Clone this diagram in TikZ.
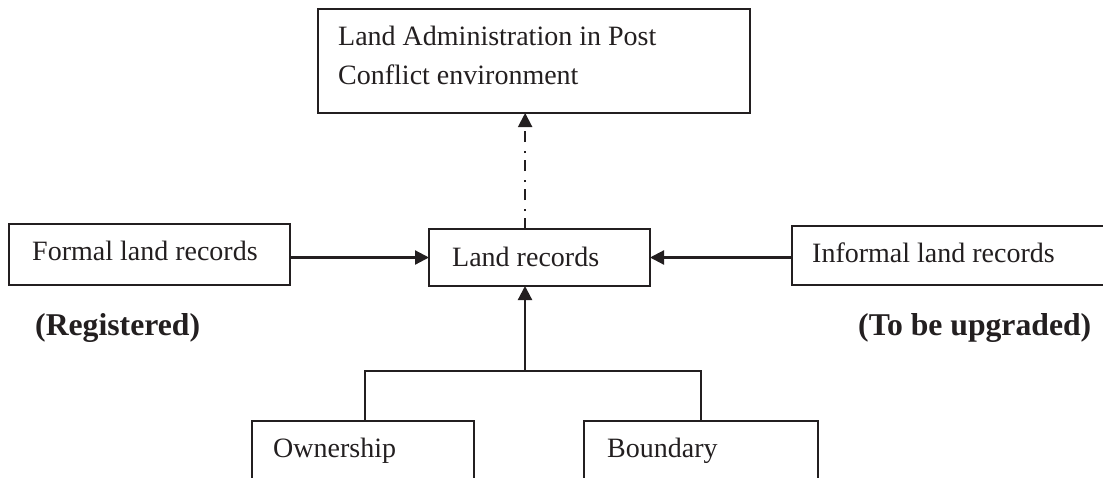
\documentclass[tikz,border=0pt]{standalone}
\usepackage{fontspec}
\setmainfont{Liberation Serif}
\usetikzlibrary{arrows.meta,calc}
\definecolor{ink}{HTML}{231F20}
\tikzset{
  box/.style={draw=ink, line width=1.5pt, rectangle, inner sep=0pt, outer sep=0pt, anchor=north west},
  txt/.style={text=ink, inner sep=0pt, anchor=base west, font=\fontsize{28}{34}\selectfont},
  lbl/.style={text=ink, inner sep=0pt, anchor=base west, font=\fontsize{31.7}{38}\selectfont\bfseries},
  conn/.style={draw=ink, line width=2.2pt},
  arr/.style={conn, -{Triangle[length=14pt,width=14pt]}},
  dashdotarr/.style={draw=ink, line width=2pt, -{Triangle[length=14pt,width=14pt]},
    dash pattern=on 11pt off 7pt on 2pt off 9pt}
}
\begin{document}
\begin{tikzpicture}[x=1pt,y=-1pt]
\clip (0,0) rectangle (1103,477);
\fill[white] (0,0) rectangle (1103,477);
% boxes
\node[box, minimum width=432pt, minimum height=104pt] (top) at (318,9) {};
\node[box, minimum width=281pt, minimum height=61pt] (formal) at (9,224) {};
\node[box, minimum width=221pt, minimum height=57pt] (land) at (429,229) {};
\node[box, minimum width=323pt, minimum height=59pt] (informal) at (792,226) {};
\node[box, minimum width=222pt, minimum height=80pt] (own) at (252,421) {};
\node[box, minimum width=234pt, minimum height=80pt] (bnd) at (584,421) {};
% texts
\node[txt] (t1) at (338,45) {Land Administration in Post};
\node[txt] (t2) at (338,84) {Conflict environment};
\node[txt] (tformal) at (32,260) {Formal land records};
\node[txt] (tland) at (452,266) {Land records};
\node[txt] (tinformal) at (812,262) {Informal land records};
\node[txt] (town) at (273,457) {Ownership};
\node[txt] (tbnd) at (607,457) {Boundary};
\node[lbl] (reg) at (35,335) {(Registered)};
\node[lbl] (upg) at (858,335) {(To be upgraded)};
% connectors
\draw[arr] (formal.east |- land.west) -- (land.west);
\draw[arr] (informal.west |- land.east) -- (land.east);
\coordinate (dd) at ($(land.north west)!0.435!(land.north east)$);
\draw[dashdotarr] (dd) -- (dd |- top.south);
\coordinate (j) at (525,371);
\coordinate (jl) at (365,371);
\coordinate (jr) at (701,371);
\draw[arr] (j) -- (j |- land.south);
\draw[conn, line width=1.8pt] (jl |- own.north) -- (jl) -- (jr) -- (jr |- bnd.north);
\end{tikzpicture}
\end{document}
